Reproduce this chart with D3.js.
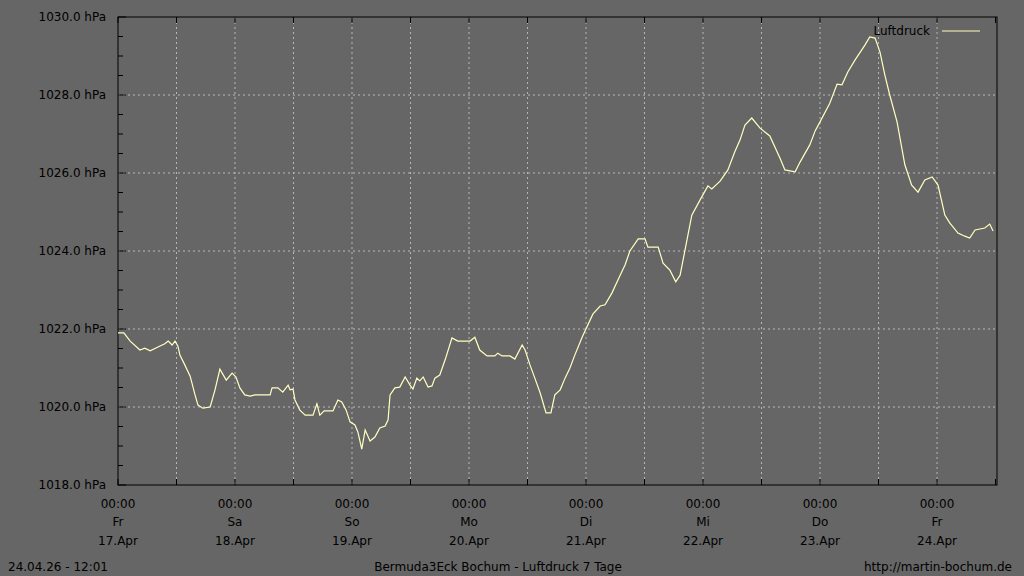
<!DOCTYPE html>
<html><head><meta charset="utf-8">
<script src="https://cdn.jsdelivr.net/npm/d3@7"></script>
<style>body{margin:0;background:#666666}svg{display:block}text{font-family:"DejaVu Sans",sans-serif;font-size:12px;fill:#000}</style>
</head><body><svg id="c" width="1024" height="576"></svg>
<script>
const hours=[0,1.2,2.5,4.5,5.5,6.6,8.2,9.6,10.3,11.1,11.7,12.3,12.7,13.7,14.8,15.8,16.4,17.4,18.9,19.9,20.9,22.2,23.4,24.2,25.0,26.0,27.1,28.1,31.2,31.6,32.8,33.8,34.9,35.3,35.9,36.3,37.3,38.4,40.0,40.8,41.4,42.3,44.1,45.1,45.9,46.8,47.6,48.6,49.2,50.0,50.7,51.7,52.7,53.7,54.8,55.4,55.8,56.8,57.8,58.9,59.9,60.5,61.3,61.9,62.6,63.6,64.4,65.0,66.0,67.1,68.5,69.7,72.2,73.2,74.2,75.7,77.3,77.9,78.8,80.4,81.4,82.9,83.5,84.5,85.5,86.6,87.8,88.8,89.6,90.7,91.7,92.7,93.7,95.2,97.4,98.9,99.9,101.3,103.0,104.0,105.0,106.7,108.1,108.7,110.8,111.8,113.2,114.4,115.3,116.7,117.7,119.4,121.0,121.8,123.5,125.1,126.5,127.6,128.6,130.0,131.7,133.7,135.8,136.8,138.9,139.9,141.9,143.0,144.0,146.0,147.5,148.5,149.7,151.2,153.2,154.2,155.3,156.3,157.3,158.3,159.8,161.4,162.8,164.1,165.5,167.0,168.2,169.6,170.6,172.3,173.7,174.7,175.8,177.8,178.8,179.5];
const pressure=[1021.90,1021.90,1021.69,1021.46,1021.51,1021.44,1021.54,1021.62,1021.69,1021.59,1021.69,1021.56,1021.33,1021.08,1020.79,1020.31,1020.05,1019.97,1020.00,1020.44,1020.97,1020.69,1020.87,1020.77,1020.49,1020.31,1020.28,1020.31,1020.31,1020.49,1020.49,1020.38,1020.56,1020.44,1020.46,1020.18,1019.92,1019.79,1019.79,1020.08,1019.79,1019.90,1019.90,1020.18,1020.13,1019.92,1019.62,1019.54,1019.36,1018.92,1019.41,1019.13,1019.23,1019.46,1019.51,1019.67,1020.31,1020.49,1020.51,1020.77,1020.56,1020.46,1020.74,1020.67,1020.77,1020.51,1020.54,1020.74,1020.82,1021.21,1021.77,1021.69,1021.69,1021.79,1021.46,1021.31,1021.31,1021.38,1021.31,1021.31,1021.23,1021.59,1021.46,1021.08,1020.74,1020.36,1019.85,1019.85,1020.31,1020.44,1020.74,1021.00,1021.33,1021.79,1022.38,1022.59,1022.62,1022.92,1023.38,1023.64,1024.00,1024.31,1024.31,1024.10,1024.10,1023.69,1023.51,1023.21,1023.38,1024.28,1024.92,1025.31,1025.67,1025.59,1025.79,1026.08,1026.54,1026.85,1027.23,1027.41,1027.15,1026.95,1026.38,1026.08,1026.03,1026.28,1026.72,1027.08,1027.31,1027.79,1028.28,1028.26,1028.59,1028.90,1029.28,1029.49,1029.46,1029.10,1028.51,1028.00,1027.31,1026.21,1025.69,1025.51,1025.82,1025.90,1025.69,1024.92,1024.72,1024.46,1024.38,1024.33,1024.54,1024.59,1024.69,1024.51];
const dayNames=["Fr","Sa","So","Mo","Di","Mi","Do","Fr"];
const dayDates=["17.Apr","18.Apr","19.Apr","20.Apr","21.Apr","22.Apr","23.Apr","24.Apr"];
const yTicks=[1018,1020,1022,1024,1026,1028,1030];

const svg=d3.select("#c");
const L=118,R=997,T=17,B=485;
const x=d3.scaleLinear().domain([0,180.3]).range([L,R]);
const y=d3.scaleLinear().domain([1018,1030]).range([B,T]);
const g=svg.append("g");
// grid
const vgrid=d3.range(12,180,12);
g.selectAll(".vg").data(vgrid).join("line").attr("x1",d=>x(d)).attr("x2",d=>x(d)).attr("y1",T).attr("y2",B)
 .attr("stroke","#b8b8b8").attr("stroke-dasharray","2,3");
g.selectAll(".hg").data(yTicks.slice(1,-1)).join("line").attr("x1",L).attr("x2",R).attr("y1",d=>y(d)).attr("y2",d=>y(d))
 .attr("stroke","#b8b8b8").attr("stroke-dasharray","2,3");
// frame
g.append("rect").attr("x",L).attr("y",T).attr("width",R-L).attr("height",B-T).attr("fill","none").attr("stroke","#000");
// y ticks
const minor=d3.range(1018,1030.01,0.5);
g.selectAll(".yt").data(minor).join("line").attr("x1",L).attr("x2",d=>L+(d%2===0?8:5)).attr("y1",d=>y(d)).attr("y2",d=>y(d)).attr("stroke","#000");
g.selectAll(".yl").data(yTicks).join("text").attr("x",106).attr("y",d=>y(d)+4).attr("text-anchor","end").text(d=>d.toFixed(1)+" hPa");
// x ticks
const xt=d3.range(0,181,12);
g.selectAll(".xb").data(xt).join("line").attr("x1",d=>x(d)).attr("x2",d=>x(d)).attr("y1",B).attr("y2",B-6).attr("stroke","#000");
g.selectAll(".xtp").data(xt).join("line").attr("x1",d=>x(d)).attr("x2",d=>x(d)).attr("y1",T).attr("y2",T+6).attr("stroke","#000");
const days=d3.range(0,8);
const lab=g.selectAll(".xl").data(days).join("g");
lab.append("text").attr("x",d=>x(d*24)).attr("y",508).attr("text-anchor","middle").text("00:00");
lab.append("text").attr("x",d=>x(d*24)).attr("y",526).attr("text-anchor","middle").text(d=>dayNames[d]);
lab.append("text").attr("x",d=>x(d*24)).attr("y",545).attr("text-anchor","middle").text(d=>dayDates[d]);
// line
const line=d3.line().x((d,i)=>x(hours[i])).y(d=>y(d));
g.append("path").datum(pressure).attr("d",line).attr("fill","none").attr("stroke","#ffffc0").attr("stroke-width",1.2);
// legend
g.append("text").attr("x",930).attr("y",35).attr("text-anchor","end").text("Luftdruck");
g.append("line").attr("x1",942).attr("x2",980).attr("y1",31).attr("y2",31).attr("stroke","#ffffc0");
// footer
svg.append("text").attr("x",8).attr("y",571).text("24.04.26 - 12:01");
svg.append("text").attr("x",498).attr("y",571).attr("text-anchor","middle").text("Bermuda3Eck Bochum - Luftdruck 7 Tage");
svg.append("text").attr("x",1012).attr("y",571).attr("text-anchor","end").text("http://martin-bochum.de");
</script></body></html>
